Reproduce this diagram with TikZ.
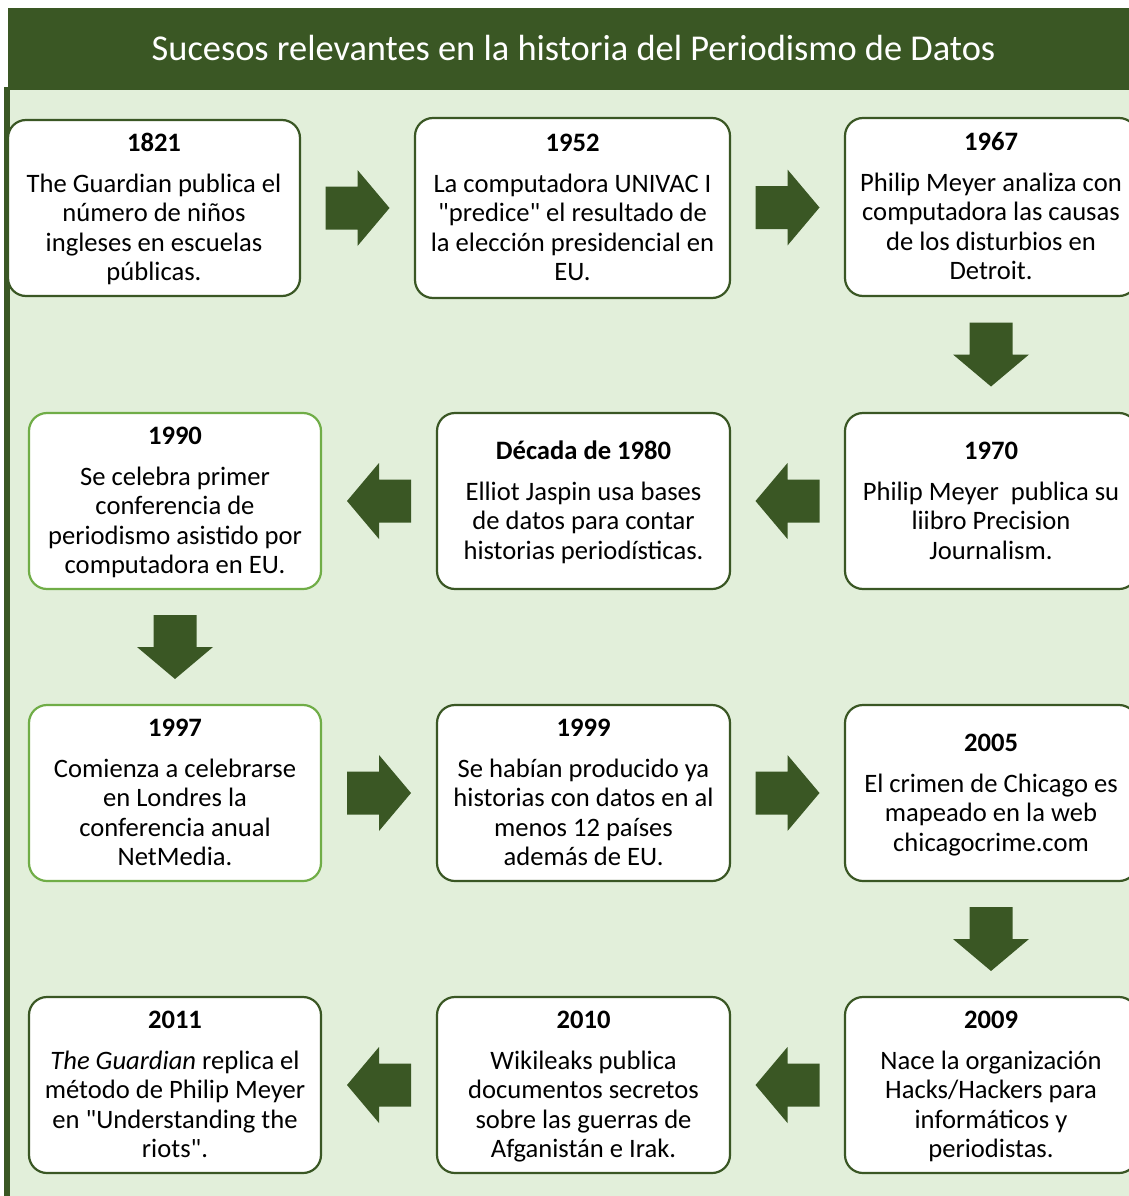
\documentclass[tikz,border=0pt]{standalone}
\usepackage{fontspec}
\setmainfont{Carlito}[Ligatures=TeXOff]
\usetikzlibrary{calc}
\definecolor{dkgreen}{HTML}{3A5724}
\definecolor{ltgreen}{HTML}{70AD47}
\definecolor{panel}{HTML}{E2EFDA}
\newcommand\evtext[2]{\rule{0pt}{24pt}\textbf{#1}\\[11.5pt]#2\rule[-8pt]{0pt}{8pt}}
\tikzset{
  event/.style={draw=dkgreen, line width=2.2pt, fill=white, rounded corners=18pt,
    align=center, inner sep=0pt, font=\fontsize{26.6}{29.5}\selectfont,
    minimum width=292pt, minimum height=176pt},
  eventlt/.style={event, draw=ltgreen},
  blockarrow/.pic={\fill[dkgreen] (-32,-21.5) -- (0,-21.5) -- (0,-38) -- (32,0) -- (0,38) -- (0,21.5) -- (-32,21.5) -- cycle;}
}
\begin{document}
\begin{tikzpicture}[x=1pt,y=-1pt]
\useasboundingbox (0,0) rectangle (1129,1196);
\fill[white] (0,0) rectangle (1129,1196);
\fill[panel] (10,90) rectangle (1129,1196);
\fill[dkgreen] (4,87) rectangle (10,1196);
\fill[dkgreen] (8,8) rectangle (1129,90);
\node[text=white, font=\fontsize{36.4}{40}\selectfont, inner sep=0pt, anchor=base] (title) at (573.5,61) {Sucesos relevantes en la historia del Periodismo de Datos};

\begin{scope}
\clip (0,0) rectangle (1129,1196);
\node[event] (b1821) at (154,208)
 {\evtext{1821}{The Guardian publica el\\número de niños\\ingleses en escuelas\\públicas.}};
\node[event, minimum width=315pt, minimum height=180pt] (b1952) at (572.5,208)
 {\evtext{1952}{La computadora UNIVAC I\\"predice" el resultado de\\la elección presidencial en\\EU.}};
\node[event, minimum height=178pt] (b1967) at (991,207)
 {\evtext{1967}{Philip Meyer analiza con\\computadora las causas\\de los disturbios en\\Detroit.}};

\node[eventlt] (b1990) at (175,501)
 {\evtext{1990}{Se celebra primer\\conferencia de\\periodismo asistido por\\computadora en EU.}};
\node[event, minimum width=293pt] (b1980) at (583.5,501)
 {\evtext{Década de 1980}{Elliot Jaspin usa bases\\de datos para contar\\historias periodísticas.}};
\node[event] (b1970) at (991,501)
 {\evtext{1970}{Philip Meyer\ \ publica su\\liibro Precision\\Journalism.}};

\node[eventlt] (b1997) at (175,793)
 {\evtext{1997}{Comienza a celebrarse\\en Londres la\\conferencia anual\\NetMedia.}};
\node[event, minimum width=293pt] (b1999) at (583.5,793)
 {\evtext{1999}{Se habían producido ya\\historias con datos en al\\menos 12 países\\además de EU.}};
\node[event] (b2005) at (991,793)
 {\evtext{2005}{El crimen de Chicago es\\mapeado en la web\\chicagocrime.com}};

\node[event] (b2011) at (175,1085)
 {\evtext{2011}{\textit{The Guardian} replica el\\método de Philip Meyer\\en "Understanding the\\riots".}};
\node[event, minimum width=293pt] (b2010) at (583.5,1085)
 {\evtext{2010}{Wikileaks publica\\documentos secretos\\sobre las guerras de\\Afganistán e Irak.}};
\node[event] (b2009) at (991,1085)
 {\evtext{2009}{Nace la organización\\Hacks/Hackers para\\informáticos y\\periodistas.}};
\end{scope}

\pic at ($(b1821.east)!0.5!(b1952.west)$) {blockarrow};
\pic at ($(b1952.east)!0.5!(b1967.west)$) {blockarrow};
\pic[rotate=-90] at ($(b1967.south)!0.5!(b1970.north)$) {blockarrow};
\pic[rotate=180] at ($(b1970.west)!0.5!(b1980.east)$) {blockarrow};
\pic[rotate=180] at ($(b1980.west)!0.5!(b1990.east)$) {blockarrow};
\pic[rotate=-90] at ($(b1990.south)!0.5!(b1997.north)$) {blockarrow};
\pic at ($(b1997.east)!0.5!(b1999.west)$) {blockarrow};
\pic at ($(b1999.east)!0.5!(b2005.west)$) {blockarrow};
\pic[rotate=-90] at ($(b2005.south)!0.5!(b2009.north)$) {blockarrow};
\pic[rotate=180] at ($(b2009.west)!0.5!(b2010.east)$) {blockarrow};
\pic[rotate=180] at ($(b2010.west)!0.5!(b2011.east)$) {blockarrow};
\end{tikzpicture}
\end{document}
